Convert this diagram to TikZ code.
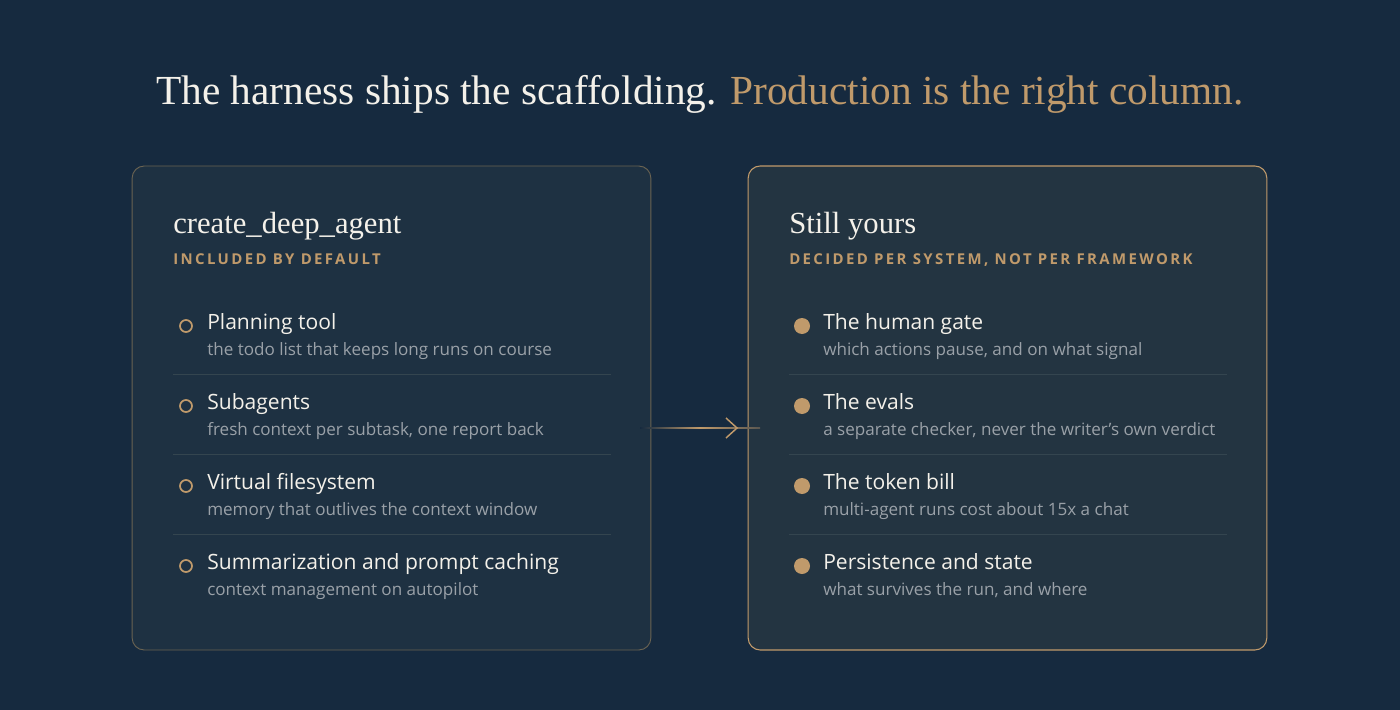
\documentclass[tikz,border=0pt]{standalone}
\usepackage{fontspec}
\setmainfont{Liberation Serif}
\setsansfont{Open Sans}
\begin{document}
\definecolor{bg}{HTML}{162A3F}
\definecolor{lbox}{HTML}{1E3142}
\definecolor{rbox}{HTML}{233441}
\definecolor{gold}{HTML}{C09A6B}
\definecolor{lborder}{HTML}{6A6352}
\definecolor{wht}{HTML}{F4F1EA}
\definecolor{sub}{HTML}{9AA1A8}
\definecolor{sep}{HTML}{34454F}
\begin{tikzpicture}[x=0.75pt,y=-0.75pt,
  ttl/.style={anchor=base west,font=\sffamily\fontsize{15.8}{18}\selectfont,text=wht,inner sep=0},
  sb/.style={anchor=base west,font=\sffamily\fontsize{12.8}{14}\selectfont,text=sub,inner sep=0},
  hd/.style={anchor=base west,font=\rmfamily\fontsize{23}{26}\selectfont,text=wht,inner sep=0},
  capsl/.style={anchor=base west,font=\sffamily\bfseries\fontsize{11.2}{12}\selectfont\addfontfeature{LetterSpace=16},text=gold,inner sep=0},
  ring/.style={circle,draw=gold,line width=1.3pt,minimum size=9pt,inner sep=0},
  dot/.style={circle,fill=gold,minimum size=12pt,inner sep=0},
  sepl/.style={draw=sep,line width=0.6pt}]
\fill[bg] (0,0) rectangle (1400,710);
\useasboundingbox (0,0) rectangle (1400,710);
\node[anchor=base,inner sep=0,font=\rmfamily\fontsize{31}{36}\selectfont] (title) at (700,104) {\textcolor{wht}{The harness ships the scaffolding.} \textcolor{gold}{Production is the right column.}};
\node[draw=lborder,fill=lbox,rounded corners=9pt,line width=0.7pt,minimum width=389pt,minimum height=363pt,inner sep=0] (L) at (391.5,408) {};
\node[draw=gold,fill=rbox,rounded corners=9pt,line width=0.8pt,minimum width=389pt,minimum height=363pt,inner sep=0] (R) at (1007.5,408) {};
% arrow
\shade[left color=bg,right color=gold] (640,427.3) rectangle (700,428.7);
\shade[left color=gold,right color=bg!60!gold] (700,427.3) rectangle (760,428.7);
\coordinate (tip) at (737,428);
\draw[gold,line width=1.1pt] (726,418) -- (tip) -- (726,438);
% left
\node[hd] (lh) at (173,233) {create\_deep\_agent};
\node[capsl] (lc) at (173,264) {INCLUDED BY DEFAULT};
\foreach \i/\t/\s in {0/Planning tool/{the todo list that keeps long runs on course},
 1/Subagents/{fresh context per subtask, one report back},
 2/Virtual filesystem/{memory that outlives the context window},
 3/Summarization and prompt caching/{context management on autopilot}}{
  \node[ring] (lr\i) at (186,326+80*\i) {};
  \node[ttl] (lt\i) at (207,329+80*\i) {\t};
  \node[sb] (ls\i) at (207,355+80*\i) {\s};
}
\foreach \i in {0,1,2}{\draw[sepl] (173,374+80*\i) -- (611,374+80*\i);}
% right
\node[hd] (rh) at (789,233) {Still yours};
\node[capsl] (rc) at (789,264) {DECIDED PER SYSTEM, NOT PER FRAMEWORK};
\foreach \i/\t/\s in {0/The human gate/{which actions pause, and on what signal},
 1/The evals/{a separate checker, never the writer\char"0027 s own verdict},
 2/The token bill/{multi-agent runs cost about 15x a chat},
 3/Persistence and state/{what survives the run, and where}}{
  \node[dot] (rd\i) at (802,326+80*\i) {};
  \node[ttl] (rt\i) at (823,329+80*\i) {\t};
  \node[sb] (rs\i) at (823,355+80*\i) {\s};
}
\foreach \i in {0,1,2}{\draw[sepl] (789,374+80*\i) -- (1227,374+80*\i);}
\end{tikzpicture}
\end{document}
